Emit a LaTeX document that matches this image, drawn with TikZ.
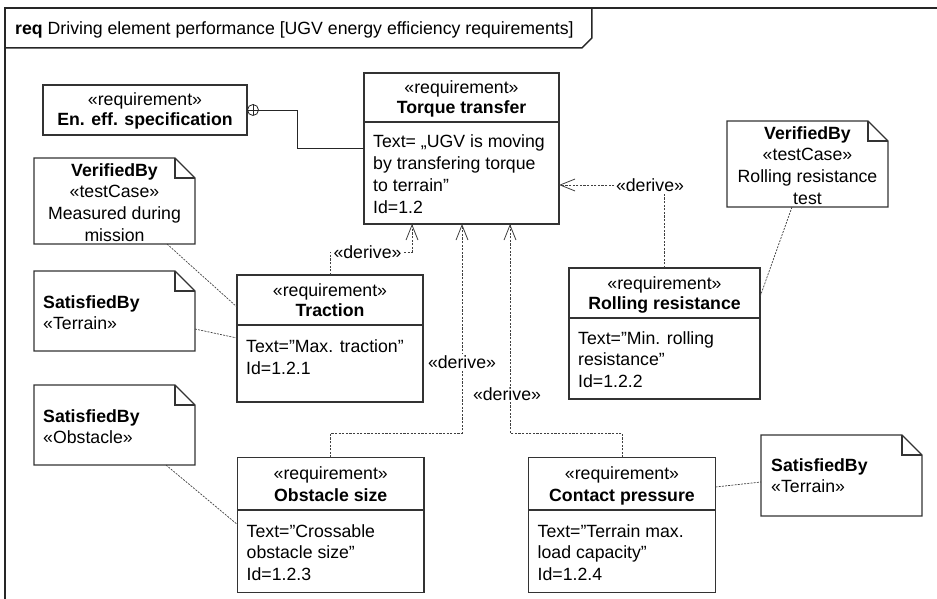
\documentclass[tikz,border=0pt]{standalone}
\usepackage{fontspec}
\setmainfont{Liberation Sans}
\usetikzlibrary{arrows.meta,calc}
\begin{document}
\begin{tikzpicture}[x=1pt,y=-1pt,
  every node/.style={font=\fontsize{17.7}{21.7}\selectfont, text=black},
  ln/.style={draw=black!80, line width=1.1pt},
  thin ln/.style={draw=black!85, line width=0.8pt},
  frm/.style={draw=black!85, line width=1.5pt},
  rbox/.style={ln, rectangle, inner sep=0pt, outer sep=0pt},
  nbox/.style={rectangle, inner sep=0pt, outer sep=0pt},
  dl/.style={draw=black!75, line width=0.8pt, dash pattern=on 2.2pt off 1.4pt},
  nl/.style={draw=black!75, line width=0.7pt, dash pattern=on 2pt off 1.2pt},
  barb/.style={-{Straight Barb[length=15pt,width=12pt]}},
  tl/.style={anchor=north west, inner sep=0pt, yshift=15.19pt, align=left},
  tc/.style={anchor=north, inner sep=0pt, yshift=15.19pt, align=center},
  tb/.style={anchor=base, inner sep=0pt},
  lbl/.style={fill=white, inner sep=1.5pt},
]
\useasboundingbox (0,0) rectangle (937,599);

% frame
\draw[frm] (937,8) -- (5,8) -- (5,599);
\node[anchor=base west, inner sep=0pt] (hdr) at (15,35) {\textbf{req} Driving element performance [UGV energy efficiency requirements]};
\coordinate (tabA) at ([xshift=8pt]hdr.east);
\coordinate (tabB) at ([xshift=18pt]hdr.east);
\draw[frm] (5,48) -- (tabA |- 0,48) -- (tabB |- 0,38) -- (tabB |- 0,8);

% En. eff. specification
\node[rbox, minimum width=204pt, minimum height=50pt] (ee) at (145,110) {};
\node[tb] (ee1) at (145,105.5) {«requirement»};
\node[tb] (ee2) at (145,126) {\textbf{En. eff. specification}};

% Torque transfer
\node[rbox, minimum width=195pt, minimum height=151pt] (tt) at (461.5,148.5) {};
\draw[ln] (tt.west |- 0,122) -- (tt.east |- 0,122);
\node[tb] (tt1) at (461.5,94) {«requirement»};
\node[tb] (tt2) at (461.5,114) {\textbf{Torque transfer}};
\node[tl] (tt3) at (373,147.7) {\strut Text= „UGV is moving\\by transfering torque\\to terrain”\\Id=1.2};

% Traction
\node[rbox, minimum width=186pt, minimum height=127pt] (tr) at (330,338.5) {};
\draw[ln] (tr.west |- 0,325) -- (tr.east |- 0,325);
\node[tb] (tr1) at (330,296) {«requirement»};
\node[tb] (tr2) at (330,316) {\textbf{Traction}};
\node[tl] (tr3) at (246,352.5) {\strut Text=”Max. traction”\\Id=1.2.1};

% Rolling resistance
\node[rbox, minimum width=191pt, minimum height=131pt] (rr) at (664.5,333.5) {};
\draw[ln] (rr.west |- 0,318) -- (rr.east |- 0,318);
\node[tb] (rr1) at (664.5,289) {«requirement»};
\node[tb] (rr2) at (664.5,309) {\textbf{Rolling resistance}};
\node[tl] (rr3) at (578,344) {\strut Text=”Min. rolling\\resistance”\\Id=1.2.2};

% Obstacle size
\node[rbox, minimum width=186.5pt, minimum height=135pt] (ob) at (330.75,525) {};
\draw[ln] (ob.west |- 0,510) -- (ob.east |- 0,510);
\node[tb] (ob1) at (330.75,479.5) {«requirement»};
\node[tb] (ob2) at (330.75,501) {\textbf{Obstacle size}};
\node[tl] (ob3) at (246.5,537) {\strut Text=”Crossable\\obstacle size”\\Id=1.2.3};

% Contact pressure
\node[rbox, minimum width=187pt, minimum height=135pt] (cp) at (622,525) {};
\draw[ln] (cp.west |- 0,510) -- (cp.east |- 0,510);
\node[tb] (cp1) at (622,479.5) {«requirement»};
\node[tb] (cp2) at (622,501) {\textbf{Contact pressure}};
\node[tl] (cp3) at (537.5,537) {\strut Text=”Terrain max.\\load capacity”\\Id=1.2.4};

% Notes
\node[nbox, minimum width=161pt, minimum height=86pt] (vb1) at (114.5,201) {};
\draw[ln] (vb1.north west) -- ([xshift=-20pt]vb1.north east) -- ([yshift=-20pt]vb1.north east) -- (vb1.south east) -- (vb1.south west) -- cycle;
\draw[ln] ([xshift=-20pt]vb1.north east) |- ([yshift=-20pt]vb1.north east);
\node[tc] (vb1t) at (114.5,176) {\strut\textbf{VerifiedBy}\\«testCase»\\Measured during\\mission};

\node[nbox, minimum width=161pt, minimum height=80pt] (sb1) at (114.5,311) {};
\draw[ln] (sb1.north west) -- ([xshift=-20pt]sb1.north east) -- ([yshift=-20pt]sb1.north east) -- (sb1.south east) -- (sb1.south west) -- cycle;
\draw[ln] ([xshift=-20pt]sb1.north east) |- ([yshift=-20pt]sb1.north east);
\node[tl] (sb1t) at (43,308) {\strut\textbf{SatisfiedBy}\\«Terrain»};

\node[nbox, minimum width=161pt, minimum height=80pt] (sb2) at (114.5,425) {};
\draw[ln] (sb2.north west) -- ([xshift=-20pt]sb2.north east) -- ([yshift=-20pt]sb2.north east) -- (sb2.south east) -- (sb2.south west) -- cycle;
\draw[ln] ([xshift=-20pt]sb2.north east) |- ([yshift=-20pt]sb2.north east);
\node[tl] (sb2t) at (43,422) {\strut\textbf{SatisfiedBy}\\«Obstacle»};

\node[nbox, minimum width=161pt, minimum height=81pt] (sb3) at (841.5,475.5) {};
\draw[ln] (sb3.north west) -- ([xshift=-20pt]sb3.north east) -- ([yshift=-20pt]sb3.north east) -- (sb3.south east) -- (sb3.south west) -- cycle;
\draw[ln] ([xshift=-20pt]sb3.north east) |- ([yshift=-20pt]sb3.north east);
\node[tl] (sb3t) at (771,471) {\strut\textbf{SatisfiedBy}\\«Terrain»};

\node[nbox, minimum width=161pt, minimum height=86pt] (vb2) at (807.5,164) {};
\draw[ln] (vb2.north west) -- ([xshift=-20pt]vb2.north east) -- ([yshift=-20pt]vb2.north east) -- (vb2.south east) -- (vb2.south west) -- cycle;
\draw[ln] ([xshift=-20pt]vb2.north east) |- ([yshift=-20pt]vb2.north east);
\node[tc] (vb2t) at (807.5,139) {\strut\textbf{VerifiedBy}\\«testCase»\\Rolling resistance\\test};

% containment
\draw[thin ln] ([xshift=6pt]ee.east) circle (5.5pt);
\draw[thin ln] ([xshift=0.5pt]ee.east) -- ([xshift=11.5pt]ee.east);
\draw[thin ln] ([xshift=6pt,yshift=5.5pt]ee.east) -- ([xshift=6pt,yshift=-5.5pt]ee.east);
\draw[thin ln] ([xshift=11.5pt]ee.east) -- (297,110) -- (297,148) -- (tt.west |- 0,148);

% derive
\draw[dl,barb] (tr.north) -- (tr.north |- 0,252) -- (412,252) -- (tt.south -| 412,0);
\node[lbl] (d1) at (367.5,252) {«derive»};
\draw[dl,barb] (ob.north) -- (ob.north |- 0,433) -- (462,433) -- (tt.south -| 462,0);
\node[lbl] (d2) at (462,362) {«derive»};
\draw[dl,barb] (cp.north) -- (cp.north |- 0,433) -- (510,433) -- (tt.south -| 510,0);
\node[lbl] (d3) at (507,394) {«derive»};
\draw[dl,barb] (rr.north) -- (rr.north |- 0,185) -- (tt.east |- 0,185);
\node[lbl] (d4) at (650,185) {«derive»};

% note links
\draw[nl] (vb1.south -| 167,0) -- (tr.west |- 0,307);
\draw[nl] (sb1.east |- 0,329) -- (tr.west |- 0,338);
\draw[nl] (sb2.south -| 166,0) -- (ob.west |- 0,524.6);
\draw[nl] (cp.east |- 0,487) -- (sb3.west |- 0,482);
\draw[nl] (vb2.south -| 792,0) -- (rr.east |- 0,297);
\end{tikzpicture}
\end{document}
